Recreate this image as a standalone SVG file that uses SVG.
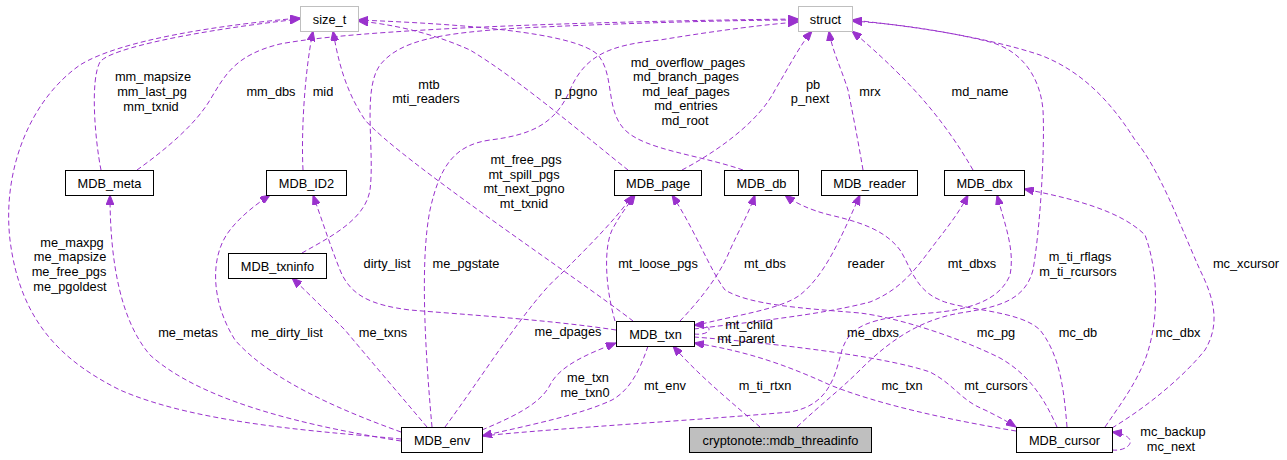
<svg xmlns="http://www.w3.org/2000/svg" width="1287" height="460" viewBox="0 0 1287 460">
<defs>
<style>
.n rect{fill:#fff;stroke:#000;stroke-width:1}
.n.x rect{stroke:#bfbfbf}
.n.c rect{fill:#bfbfbf}
text{font-family:"Liberation Sans",Arial,sans-serif;font-size:12.8px;fill:#000;text-anchor:middle}
.e path{fill:none;stroke:#9a32cd;stroke-width:1;stroke-dasharray:5,3;marker-end:url(#a)}
</style>
<marker id="a" markerWidth="11" markerHeight="8" refX="10" refY="4" orient="auto" markerUnits="userSpaceOnUse"><path d="M0,0 L10,4 L0,8 z" fill="#9a32cd" stroke="#9a32cd" stroke-width="1"/></marker>
</defs>
<rect width="1287" height="460" fill="#fff"/>
<g id="edges" class="e">
<path d="M101,170 C95,140 90,80 100,62 C110,48 200,30 300,19"/>
<path d="M401,439 C330,432 200,425 120,390 C60,360 20,320 10,240 C2,170 30,100 80,65 C120,40 220,25 300,18"/>
<path d="M303,170 C301,130 305,70 313,31"/>
<path d="M633,321 C580,280 400,160 365,120 C345,90 338,60 333,31"/>
<path d="M743,170 C700,155 645,150 625,130 C605,110 615,75 598,55 C575,32 460,24 358,20"/>
<path d="M628,170 C590,140 520,80 470,50 C430,32 390,24 358,21"/>
<path d="M137,170 C165,150 195,125 210,100 C225,75 235,55 280,44 C380,25 700,20 798,19"/>
<path d="M302,253 C330,237 365,220 370,190 C375,150 362,90 380,65 C400,40 440,33 520,28 C650,22 750,20 798,20"/>
<path d="M432,427 C425,350 420,260 430,210 C440,165 455,145 490,140 C530,135 555,125 570,90 C585,55 610,45 660,40 C720,30 770,24 798,22"/>
<path d="M682,170 C720,150 760,120 775,90 C790,65 800,45 812,31"/>
<path d="M863,170 C858,140 852,110 848,90 C840,65 832,50 829,31"/>
<path d="M973,170 C950,130 925,100 900,75 C880,55 865,42 852,31"/>
<path d="M797,427 C820,405 840,390 860,370 C890,340 920,320 960,313 C1000,307 1025,300 1033,270 C1040,230 1045,150 1043,110 C1040,75 1020,50 990,42 C950,32 900,24 852,21"/>
<path d="M1112,428 C1150,405 1185,375 1205,350 C1220,325 1215,300 1200,270 C1180,225 1160,170 1135,140 C1110,100 1080,70 1040,55 C980,35 900,25 852,20"/>
<path d="M1105,427 C1120,405 1135,385 1145,360 C1160,320 1158,270 1145,235 C1120,210 1070,198 1024,189"/>
<path d="M401,441 C300,425 200,400 150,355 C120,320 110,260 110,195"/>
<path d="M401,432 C340,410 270,380 235,340 C210,300 210,255 230,230 C240,217 255,205 270,195"/>
<path d="M616,330 C550,320 470,315 410,310 C370,305 350,295 340,270 C330,245 322,220 313,195"/>
<path d="M427,427 C400,395 370,360 345,330 C320,305 305,290 292,278"/>
<path d="M445,427 C480,380 530,300 560,275 C590,245 615,220 633,195"/>
<path d="M615,321 C606,290 603,250 612,230 C620,215 628,205 635,195"/>
<path d="M1057,427 C1045,400 1030,375 1000,358 C960,338 900,318 860,313 C800,308 750,305 725,290 C710,270 695,230 672,195"/>
<path d="M680,321 C700,300 720,275 730,250 C740,228 748,215 755,195"/>
<path d="M1067,427 C1064,390 1060,355 1040,330 C1020,310 960,310 940,300 C915,290 910,265 900,250 C885,230 860,222 830,215 C810,210 795,203 785,195"/>
<path d="M694,326 C730,316 780,310 800,295 C825,275 840,240 860,195"/>
<path d="M694,329 C750,322 820,315 870,302 C900,290 915,270 930,250 C945,230 958,215 968,195"/>
<path d="M482,436 C560,428 700,420 790,412 C830,405 835,375 842,350 C850,325 870,318 930,313 C970,310 1000,300 1010,275 C1015,250 1005,225 997,195"/>
<path d="M648,346 C640,370 630,390 612,400 C580,415 530,425 482,436"/>
<path d="M482,430 C510,418 540,405 550,385 C560,365 590,353 616,343"/>
<path d="M760,427 C735,405 700,377 673,346"/>
<path d="M1016,431 C950,420 880,405 830,385 C780,362 740,350 694,343"/>
<path d="M694,337 C760,342 880,355 930,372 C955,385 960,400 985,410 C995,415 1005,420 1016,427"/>
<path d="M694,334 C712,336 716,324 694,325"/>
<path d="M1112,450 C1130,452 1142,436 1112,432"/>
</g>
<g id="labels">
<text x="153" y="81">mm_mapsize</text>
<text x="152" y="96">mm_last_pg</text>
<text x="151" y="111">mm_txnid</text>
<text x="271" y="96">mm_dbs</text>
<text x="323" y="96">mid</text>
<text x="429" y="89">mtb</text>
<text x="426" y="103">mti_readers</text>
<text x="576" y="96">p_pgno</text>
<text x="688" y="67">md_overflow_pages</text>
<text x="686" y="81">md_branch_pages</text>
<text x="686" y="96">md_leaf_pages</text>
<text x="686" y="110">md_entries</text>
<text x="685" y="125">md_root</text>
<text x="813" y="89">pb</text>
<text x="810" y="103">p_next</text>
<text x="870" y="96">mrx</text>
<text x="980" y="96">md_name</text>
<text x="526" y="164">mt_free_pgs</text>
<text x="524" y="179">mt_spill_pgs</text>
<text x="524" y="193">mt_next_pgno</text>
<text x="524" y="208">mt_txnid</text>
<text x="387" y="268">dirty_list</text>
<text x="466" y="268">me_pgstate</text>
<text x="658" y="268">mt_loose_pgs</text>
<text x="765" y="268">mt_dbs</text>
<text x="866" y="268">reader</text>
<text x="972" y="268">mt_dbxs</text>
<text x="1080" y="261">m_ti_rflags</text>
<text x="1078" y="276">m_ti_rcursors</text>
<text x="1246" y="268">mc_xcursor</text>
<text x="72" y="247">me_maxpg</text>
<text x="70" y="261">me_mapsize</text>
<text x="69" y="276">me_free_pgs</text>
<text x="70" y="291">me_pgoldest</text>
<text x="188" y="337">me_metas</text>
<text x="287" y="337">me_dirty_list</text>
<text x="383" y="337">me_txns</text>
<text x="568" y="336">me_dpages</text>
<text x="873" y="337">me_dbxs</text>
<text x="996" y="337">mc_pg</text>
<text x="1078" y="337">mc_db</text>
<text x="1178" y="337">mc_dbx</text>
<text x="588" y="382">me_txn</text>
<text x="585" y="397">me_txn0</text>
<text x="665" y="390">mt_env</text>
<text x="765" y="390">m_ti_rtxn</text>
<text x="902" y="390">mc_txn</text>
<text x="996" y="390">mt_cursors</text>
<text x="749" y="329">mt_child</text>
<text x="746" y="343">mt_parent</text>
<text x="1173" y="436">mc_backup</text>
<text x="1171" y="451">mc_next</text>
</g>
<g id="size_t" class="n x"><rect x="300.5" y="6.5" width="58" height="25"/><text x="329.5" y="23.5">size_t</text></g>
<g id="struct" class="n x"><rect x="798.5" y="6.5" width="54" height="25"/><text x="825.5" y="23.5">struct</text></g>
<g id="MDB_meta" class="n"><rect x="65.5" y="170.5" width="88" height="25"/><text x="109.5" y="187.5">MDB_meta</text></g>
<g id="MDB_ID2" class="n"><rect x="266.5" y="170.5" width="80" height="25"/><text x="306.5" y="187.5">MDB_ID2</text></g>
<g id="MDB_page" class="n"><rect x="614.5" y="170.5" width="87" height="25"/><text x="658" y="187.5">MDB_page</text></g>
<g id="MDB_db" class="n"><rect x="724.5" y="170.5" width="74" height="25"/><text x="761.5" y="187.5">MDB_db</text></g>
<g id="MDB_reader" class="n"><rect x="821.5" y="170.5" width="96" height="25"/><text x="869.5" y="187.5">MDB_reader</text></g>
<g id="MDB_dbx" class="n"><rect x="944.5" y="170.5" width="80" height="25"/><text x="984.5" y="187.5">MDB_dbx</text></g>
<g id="MDB_txninfo" class="n"><rect x="228.5" y="253.5" width="98" height="25"/><text x="277.5" y="270.5">MDB_txninfo</text></g>
<g id="MDB_txn" class="n"><rect x="616.5" y="321.5" width="78" height="25"/><text x="655.5" y="338.5">MDB_txn</text></g>
<g id="MDB_env" class="n"><rect x="401.5" y="427.5" width="81" height="25"/><text x="442" y="444.5">MDB_env</text></g>
<g id="mdb_threadinfo" class="n c"><rect x="689.5" y="427.5" width="182" height="25"/><text x="780.5" y="444.5">cryptonote::mdb_threadinfo</text></g>
<g id="MDB_cursor" class="n"><rect x="1016.5" y="427.5" width="96" height="25"/><text x="1064.5" y="444.5">MDB_cursor</text></g>
</svg>
